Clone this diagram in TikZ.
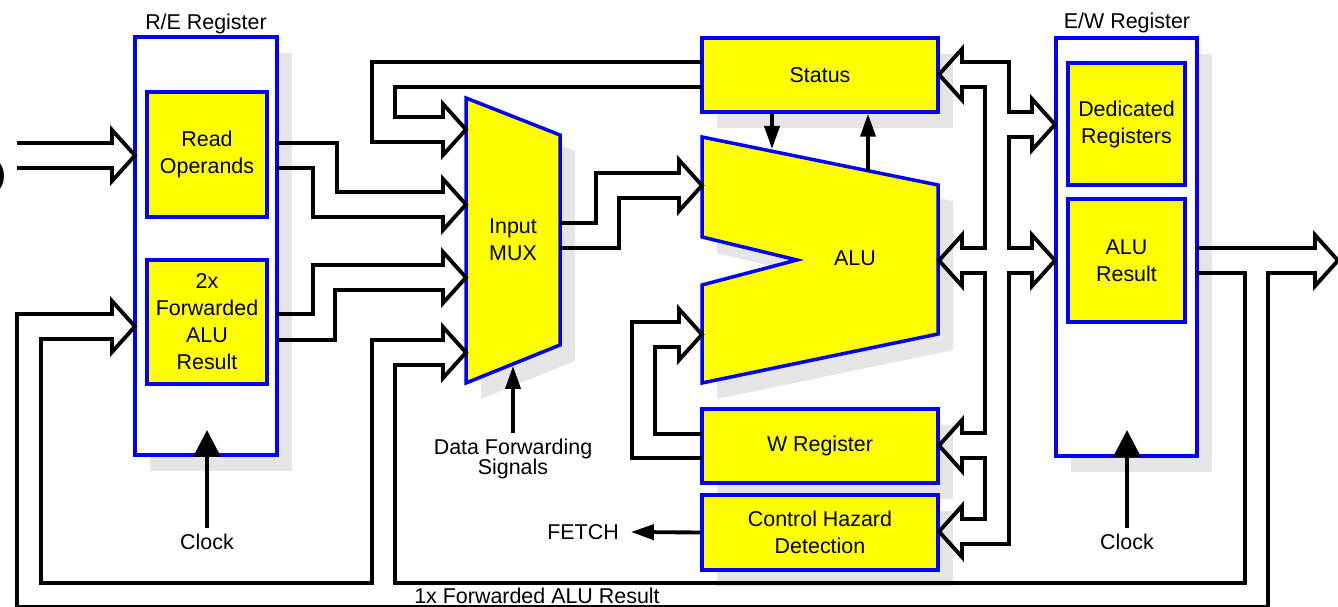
\documentclass[tikz,border=0pt]{standalone}
\usepackage{fontspec}
\setmainfont{Liberation Sans}
\usetikzlibrary{arrows.meta,shadows}
\newcommand{\px}{0.02cm}
\definecolor{ylw}{RGB}{255,255,0}
\definecolor{blu}{RGB}{0,0,255}

\begin{document}
\begin{tikzpicture}[x=\px, y=-\px, line join=miter,
  font=\fontsize{12.2}{15.4}\selectfont,
  shadowed/.style={drop shadow={shadow xshift=0.3cm, shadow yshift=-0.32cm, fill=black!10, opacity=1}},
  regbox/.style={draw=blu, fill=white, line width=2pt, inner sep=0pt, shadowed},
  ibox/.style={draw=blu, fill=ylw, line width=2pt, inner sep=0pt, align=center},
  ybox/.style={ibox, shadowed},
  bus/.style={draw=black, line width=2.2pt},
  sig/.style={line width=2.2pt, -{Triangle[length=0.46cm, width=0.3cm]}},
  clk/.style={line width=2.2pt, -{Triangle[length=0.54cm, width=0.54cm]}},
  headR/.style={insert path={-- ++(0,-13) -- ++(23,25.5) -- ++(-23,25.5) -- ++(0,-13)}},
  headRup/.style={insert path={-- ++(0,13) -- ++(23,-25.5) -- ++(-23,-25.5) -- ++(0,13)}},
  headL/.style={insert path={-- ++(0,-13) -- ++(-23,25.5) -- ++(23,25.5) -- ++(0,-13)}}]
	\useasboundingbox (0,0) rectangle (1338,607);
	% registers
	\node[regbox, minimum width=142*\px, minimum height=418*\px] (re) at (206,246) {};
	\node[ibox, minimum width=120*\px, minimum height=125*\px] (rop) at (207,154.5) {Read\\Operands};
	\node[ibox, minimum width=120*\px, minimum height=124*\px] (rfw) at (207,322) {2x\\Forwarded\\ALU\\Result};
	\node[anchor=base] (relbl) at (206,30) {R/E Register};
	\node[regbox, minimum width=141*\px, minimum height=418*\px] (ew) at (1126.5,247) {};
	\node[ibox, minimum width=117*\px, minimum height=122*\px] (ded) at (1126.5,124) {Dedicated\\Registers};
	\node[ibox, minimum width=117*\px, minimum height=123*\px] (alur) at (1126.5,260.5) {ALU\\Result};
	\node[anchor=base] (ewlbl) at (1127,29) {E/W Register};
	% execute stage
	\node[ybox, minimum width=236*\px, minimum height=74*\px] (status) at (820,75) {Status};
	\filldraw[ybox] (466,98) -- (560,135) -- (560,345) -- (466,383) -- cycle;
	\node[align=center] (mux) at (513,240) {Input\\MUX};
	\filldraw[ybox] (702,137) -- (938,185) -- (938,334) -- (702,383) -- (702,285) -- (797,260) -- (702,237) -- cycle;
	\node (alu) at (855,258) {ALU};
	\node[ybox, minimum width=236*\px, minimum height=74*\px] (wreg) at (820,446) {W Register};
	\node[ybox, minimum width=236*\px, minimum height=75*\px] (chd) at (820,532.5) {Control Hazard\\Detection};
	% hollow buses
	\draw[bus] (-19,176) circle[radius=0.42cm];
	\draw[bus] (17,143) -- (112,143) [headR] -- (17,168);
	\draw[bus] (277,143) -- (337,143) -- (337,192) -- (443,192) [headR] -- (313,217) -- (313,168) -- (277,168);
	\draw[bus] (277,314) -- (313,314) -- (313,265) -- (443,265) [headR] -- (335,290) -- (335,340) -- (277,340);
	\draw[bus] (702,87) -- (395,87) -- (395,117) -- (443,117) [headR] -- (372,142) -- (372,62) -- (702,62);
	\draw[bus] (560,223) -- (596,223) -- (596,173) -- (679,173) [headR] -- (619,198) -- (619,248) -- (560,248);
	\draw[bus] (702,458) -- (632,458) -- (632,322) -- (679,322) [headR] -- (655,347) -- (655,434) -- (702,434);
	% forwarding loops
	\draw[bus] (1197,248) -- (1315,248) [headR] -- (1268,273) -- (1268,607) -- (17,607) -- (17,314)
		-- (112,314) [headR] -- (41,339) -- (41,583) -- (372,583) -- (372,340)
		-- (443,340) [headR] -- (395,365) -- (395,583) -- (1245,583) -- (1245,273) -- (1197,273);
	\node[anchor=base] (fwd1) at (537,603) {1x Forwarded ALU Result};
	% write-back bus
	\draw[bus] (962,62) [headL] -- (985,87) -- (985,248) -- (962,248) [headL] -- (985,273) -- (985,433)
		-- (962,433) [headL] -- (985,458) -- (985,519) -- (962,519) [headL] -- (1009,544) -- (1009,273)
		-- (1032,273) [headRup] -- (1009,248) -- (1009,137) -- (1032,137) [headRup] -- (1009,112)
		-- (1009,62) -- cycle;
	% control signals
	\coordinate (alua) at (772,149); % on ALU top edge
	\coordinate (alub) at (868,171);
	\draw[sig] (status.south -| alua) -- (alua);
	\draw[sig] (alub) -- (status.south -| alub);
	\node[font=\fontsize{12.2}{11.4}\selectfont, align=center] (dfs) at (513,459) {Data Forwarding\\Signals};
	\coordinate (muxb) at (513,366);
	\draw[sig] (dfs.north) -- (muxb);
	\node (fetch) at (583,532) {FETCH};
	\draw[sig] (chd.west) -- ([xshift=0.12cm]fetch.east);
	\node (clka) at (207,542) {Clock};
	\coordinate (clkatip) at (207,430);
	\draw[clk] (clka.north) -- (clkatip);
	\node (clkb) at (1127,542) {Clock};
	\coordinate (clkbtip) at (1127,430);
	\draw[clk] (clkb.north) -- (clkbtip);
\end{tikzpicture}
\end{document}
